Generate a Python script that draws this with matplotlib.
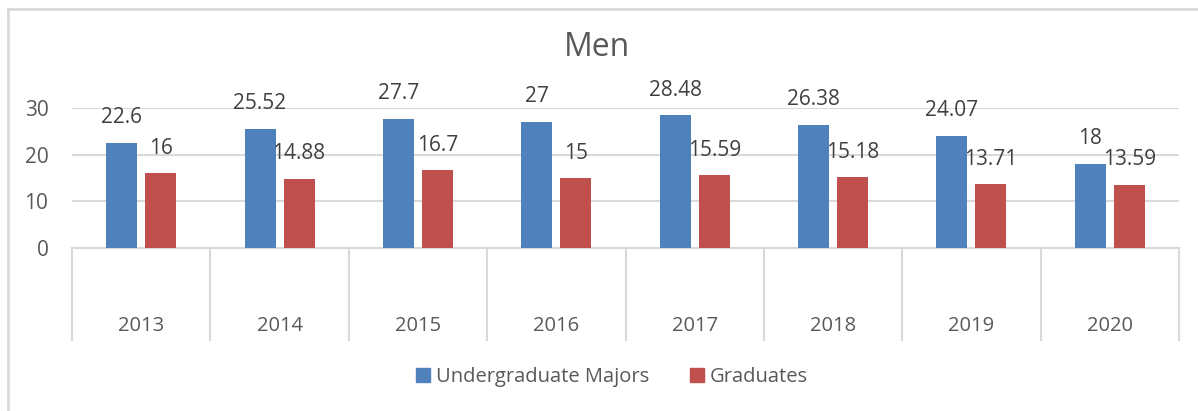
import matplotlib
matplotlib.use("Agg")
import matplotlib.pyplot as plt
import matplotlib.transforms as mtransforms
from matplotlib.patches import Patch
from matplotlib.lines import Line2D
import numpy as np

years = ["2013", "2014", "2015", "2016", "2017", "2018", "2019", "2020"]
undergrad = [22.6, 25.52, 27.7, 27, 28.48, 26.38, 24.07, 18]
graduates = [16, 14.88, 16.7, 15, 15.59, 15.18, 13.71, 13.59]
undergrad_labels = ["22.6", "25.52", "27.7", "27", "28.48", "26.38", "24.07", "18"]
graduate_labels = ["16", "14.88", "16.7", "15", "15.59", "15.18", "13.71", "13.59"]
yticks = [0, 10, 20, 30]

plt.rcParams['font.family'] = ['Open Sans', 'DejaVu Sans']

W, H = 1198, 411
fig = plt.figure(figsize=(W / 100, H / 100), dpi=100)

def fx(px):
    return px / W

def fy(py):
    return 1 - py / H

ax_l, ax_r, ax_t, ax_b = 72, 1179, 108, 248
ax = fig.add_axes([fx(ax_l), fy(ax_b), fx(ax_r - ax_l), fy(ax_t) - fy(ax_b)])

blue = "#4f81bd"
red = "#c0504d"
grid_c = "#d9d9d9"
tick_c = "#595959"
label_c = "#404040"

n = len(years)
x = np.arange(n)
w = 0.224
off = 0.141
b1 = ax.bar(x - off, undergrad, w, color=blue, zorder=3)
b2 = ax.bar(x + off, graduates, w, color=red, zorder=3)

for bars, labs in ((b1, undergrad_labels), (b2, graduate_labels)):
    for rect, lab in zip(bars, labs):
        ax.annotate(lab, (rect.get_x() + rect.get_width() / 2, rect.get_height()),
                    xytext=(0, 25 * 0.72), textcoords="offset points",
                    ha="center", va="center", fontsize=15, color=label_c,
                    annotation_clip=False)

ax.set_xlim(-0.5, n - 0.5)
ax.set_ylim(0, 30)
ax.set_yticks(yticks)
ax.set_xticks([])
ax.tick_params(axis="y", length=0, pad=17, labelsize=15, labelcolor=tick_c)
for s in ax.spines.values():
    s.set_visible(False)
ax.yaxis.grid(True, color=grid_c, linewidth=1.5, zorder=0)
ax.set_axisbelow(True)

# category axis boxes
trans = mtransforms.blended_transform_factory(ax.transData, fig.transFigure)
ax.add_line(Line2D([-0.5, n - 0.5], [fy(ax_b), fy(ax_b)], transform=trans,
                   color=grid_c, linewidth=1.5, clip_on=False, zorder=2))
for b in np.arange(-0.5, n, 1.0):
    ax.add_line(Line2D([b, b], [fy(ax_b), fy(340)], transform=trans,
                       color=grid_c, linewidth=1.5, clip_on=False))
for xi, yr in zip(x, years):
    ax.text(xi, fy(326), yr, transform=trans, ha="center", va="center",
            fontsize=14.5, color=tick_c)

fig.text(fx(597), fy(47), "Men", ha="center", va="center", fontsize=23, color=tick_c)

handles = [Patch(color=blue, label="Undergraduate Majors"),
           Patch(color=red, label="Graduates")]
fig.legend(handles=handles, loc="center", bbox_to_anchor=(fx(612), fy(377)),
           ncol=2, frameon=False, fontsize=14.5, labelcolor=tick_c,
           handlelength=0.7, handleheight=0.7, handletextpad=0.3,
           columnspacing=2.0)

# outer chart border
fig.add_artist(Line2D([fx(8), fx(8)], [fy(9), 0], transform=fig.transFigure,
                      color=grid_c, linewidth=2))
fig.add_artist(Line2D([fx(8), 1], [fy(9), fy(9)], transform=fig.transFigure,
                      color=grid_c, linewidth=2))

fig.savefig("out.png", dpi=100, facecolor="white")
